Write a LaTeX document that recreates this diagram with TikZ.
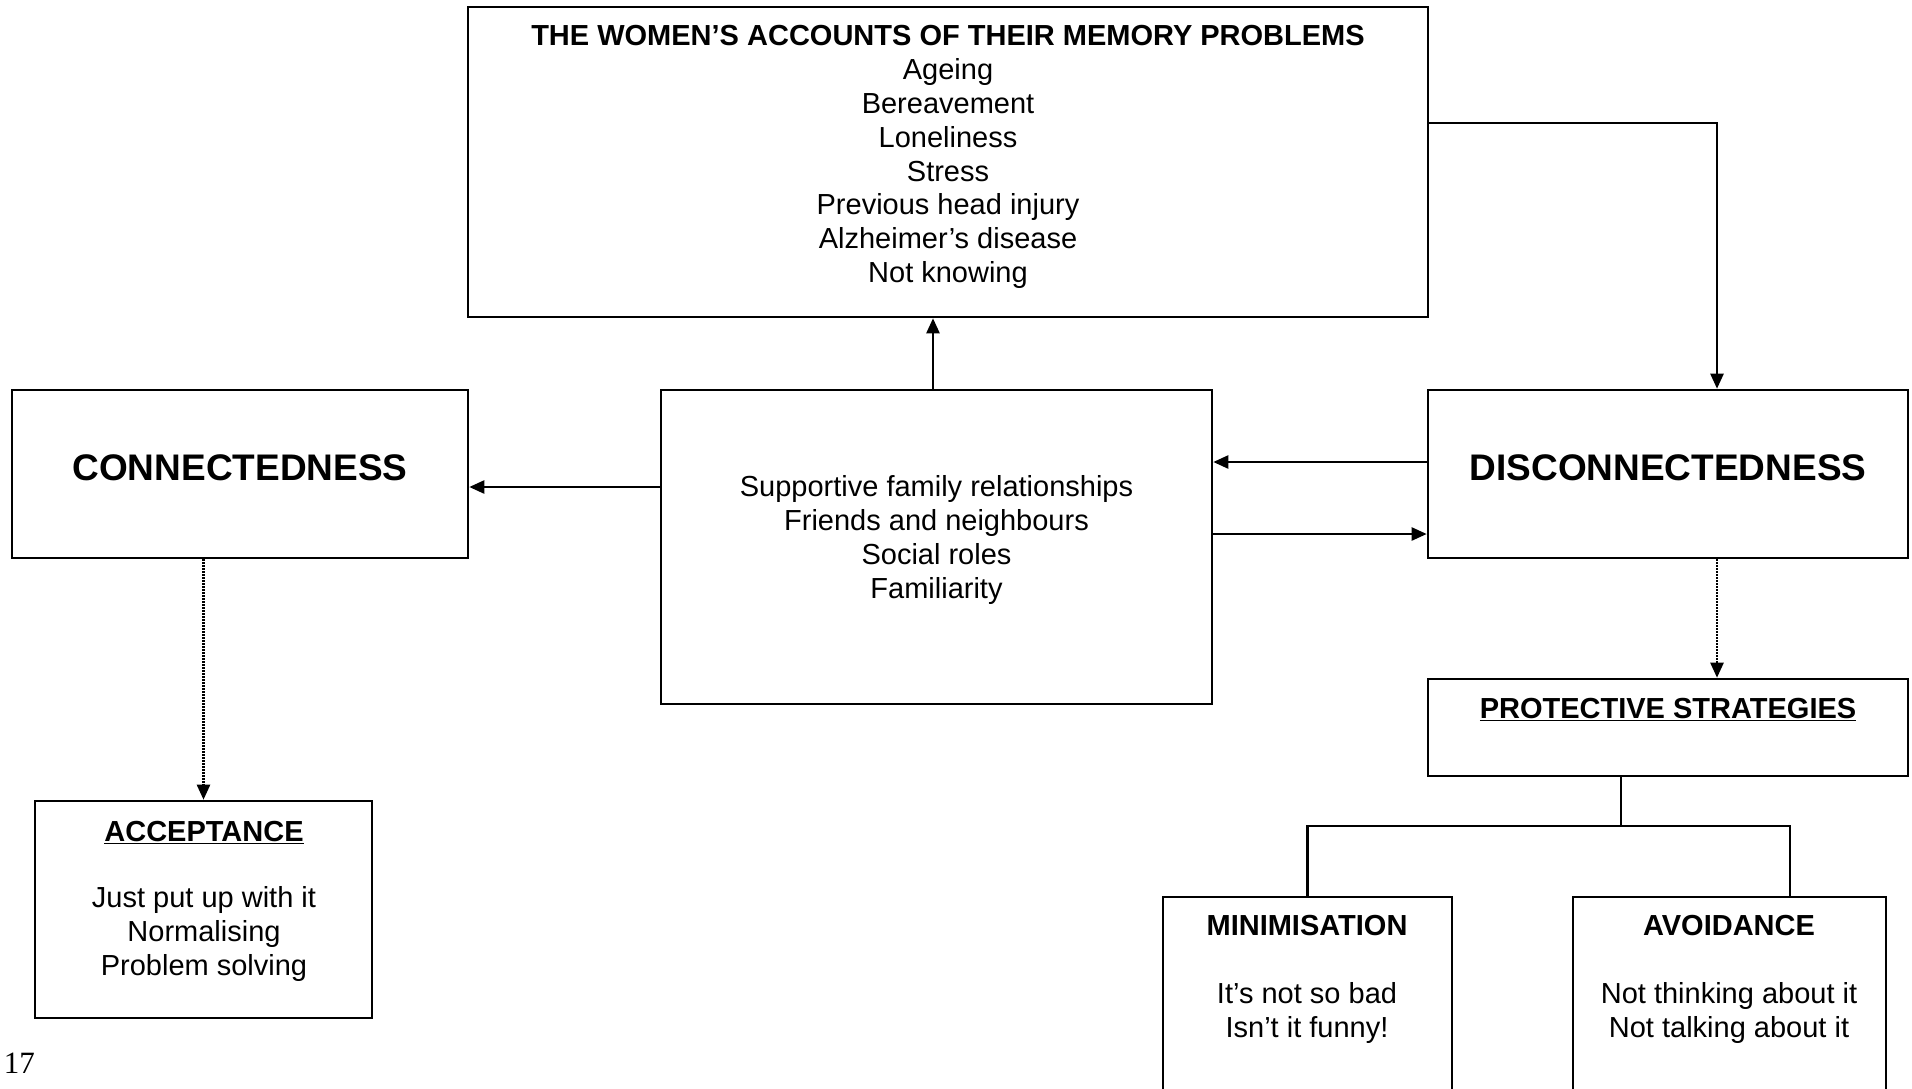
\documentclass[tikz,border=0pt]{standalone}
\usepackage{fontspec}
\setmainfont{Liberation Sans}
\newfontfamily\pagenumfont{Liberation Serif}
\usetikzlibrary{arrows.meta}
\begin{document}
\begin{tikzpicture}[x=1pt,y=-1pt,
  box/.style={draw,line width=2.6pt,rectangle,inner sep=0pt},
  txt/.style={align=center,inner sep=0pt,font=\fontsize{29}{33.8}\selectfont},
  ttl/.style={align=center,inner sep=0pt,font=\fontsize{29}{33.8}\selectfont\bfseries},
  big/.style={inner sep=0pt,font=\fontsize{37}{44}\selectfont\bfseries},
  conn/.style={line width=2.4pt,-{Triangle[length=15pt,width=13pt]}},
  dotconn/.style={line width=2.4pt,dash pattern=on 1.6pt off 1.4pt,-{Triangle[length=15pt,width=13pt]}},
  plainline/.style={line width=2.4pt}]
\useasboundingbox (0,0) rectangle (1912,1088);
\fill[white] (0,0) rectangle (1912,1088);

% boxes
\node[box,minimum width=960pt,minimum height=310pt] (top) at (948,162) {};
\node[box,minimum width=456pt,minimum height=168pt] (con) at (240,474) {};
\node[box,minimum width=551pt,minimum height=314pt] (mid) at (936.5,547) {};
\node[box,minimum width=480pt,minimum height=168pt] (dis) at (1668,474) {};
\node[box,minimum width=480pt,minimum height=97pt] (prot) at (1668,727.5) {};
\node[box,minimum width=337pt,minimum height=217pt] (acc) at (203.5,909.5) {};
\node[box,minimum width=289pt,minimum height=253pt] (mini) at (1307.5,1023.5) {};
\node[box,minimum width=313pt,minimum height=253pt] (avoid) at (1729.5,1023.5) {};

% texts
\node[txt] (toptxt) at (948,157) {\textbf{THE WOMEN’S ACCOUNTS OF THEIR MEMORY PROBLEMS}\\Ageing\\Bereavement\\Loneliness\\Stress\\Previous head injury\\Alzheimer’s disease\\Not knowing};
\node[big] (contxt) at (240,468) {CONNECTEDNESS};
\node[big] (distxt) at (1668,468) {DISCONNECTEDNESS};
\node[txt] (midtxt) at (936.5,540) {Supportive family relationships\\Friends and neighbours\\Social roles\\Familiarity};
\node[ttl] (prottxt) at (1668,709.5) {\underline{PROTECTIVE STRATEGIES}};
\node[ttl] (acctitle) at (204,832.5) {\underline{ACCEPTANCE}};
\node[txt] (acctxt) at (204,934) {Just put up with it\\Normalising\\Problem solving};
\node[ttl] (minititle) at (1307,926) {MINIMISATION};
\node[txt] (minitxt) at (1307,1013) {It’s not so bad\\Isn’t it funny!};
\node[ttl] (avoidtitle) at (1729,926) {AVOIDANCE};
\node[txt] (avoidtxt) at (1729,1013) {Not thinking about it\\Not talking about it};
\node[anchor=base east,inner sep=0pt,font=\pagenumfont\fontsize{31}{31}\selectfont] (pg) at (35,1073) {17};

% connectors
\draw[conn] ([xshift=-3.5pt]mid.north) -- ([xshift=-3.5pt]mid.north |- top.south);
\draw[conn] ([yshift=39pt]top.east) -| ([xshift=49pt]dis.north);
\draw[conn] ([yshift=60pt]mid.west) -- ([yshift=60pt]mid.west -| con.east);
\draw[conn] ([yshift=85pt]mid.east -| dis.west) -- ([yshift=85pt]mid.east);
\draw[conn] ([yshift=13pt]mid.east) -- ([yshift=13pt]mid.east -| dis.west);
\draw[dotconn] (acc.north |- con.south) -- (acc.north);
\draw[dotconn] ([xshift=49pt]dis.south) -- ([xshift=49pt]prot.north);

% tree
\coordinate (jn) at (1621,826);
\coordinate (ja) at ([xshift=60.5pt]avoid.north);
\draw[plainline] (prot.south -| jn) -- (jn);
\draw[plainline] (mini.north) |- (ja |- jn) -- (ja);
\end{tikzpicture}
\end{document}
